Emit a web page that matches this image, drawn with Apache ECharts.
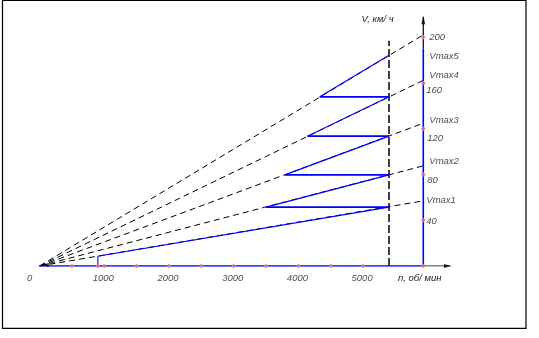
<!DOCTYPE html>
<html><head><meta charset="utf-8">
<script src="https://cdn.jsdelivr.net/npm/echarts@6/dist/echarts.min.js"></script>
<style>html,body{margin:0;padding:0;background:#fff}#c{width:539px;height:338px}</style>
</head><body><div id="c"></div>
<script>
// ---- data ----
const gearNames = ['Vmax1','Vmax2','Vmax3','Vmax4','Vmax5'];
const nMin = 900;            // rpm, start of 1st gear
const nShift = 5400;         // rpm, shift point (vertical dashed line)
const nAxis = 5930;          // rpm, where the V axis stands
const vAtShift = [51.5, 79.7, 113.6, 148.0, 184.4];  // km/h at nShift
const vRayEnd = [57.0, 87.6, 124.9, 162.4, 202.2];   // km/h at nAxis (dashed rays)
const nGearStart = [900, 3500, 3790, 4140, 4330];    // rpm, start of each blue segment
const vGear1Start = 8.6;     // km/h at nMin, 1st gear
const xTicks = [500, 900, 1000, 1500, 2000, 2500, 3000, 3500, 4000, 4500, 5000, 5930];
const xTickLabels = [0, 1000, 2000, 3000, 4000, 5000];
const yTicks = [40, 80, 120, 160, 200];
const yTickLabels = ['40','80','120','160','200'];

// ---- styles ----
const BLUE = '#0000ff', BLACK = '#000000', PINK = '#f07c7c', TXT = '#1a1a1a';
const FONT = {fontFamily:'Liberation Sans, Arial, sans-serif', fontStyle:'italic', fontSize:9.5, color:TXT};

function seg(data, color, width, type, z){
  return {type:'line', data, symbol:'none', silent:true, z:z||2,
    lineStyle:{color, width, type: type||'solid'}};
}
const series = [];
// dashed rays from origin
vRayEnd.forEach(v => series.push(seg([[0,0],[nAxis,v]], BLACK, 1, [6,4], 1)));
// vertical dashed at shift rpm
series.push(seg([[nShift,0],[nShift,197]], BLACK, 1.5, [8,3], 1));
// blue gear segments + shift horizontals
vAtShift.forEach((v,k) => {
  const vs = k === 0 ? vGear1Start : vAtShift[k-1];
  series.push(seg([[nGearStart[k], vs],[nShift, v]], BLUE, 1.1, 'solid', 3));
  if (k > 0) series.push(seg([[nGearStart[k], vAtShift[k-1]],[nShift, vAtShift[k-1]]], BLUE, 1.8, 'solid', 3));
});
series.push(seg([[nMin,0],[nMin,vGear1Start]], BLUE, 1.1, 'solid', 3));
// axes
series.push(seg([[0,0],[nAxis,0]], BLUE, 1.6, 'solid', 4));
series.push(seg([[nAxis,0],[6330,0]], BLACK, 1.2, 'solid', 4));
series.push(seg([[nAxis,0],[nAxis,190]], BLUE, 1.6, 'solid', 4));
series.push(seg([[nAxis,190],[nAxis,218]], BLACK, 1.2, 'solid', 4));
// arrowheads
series.push({type:'scatter', silent:true, z:5, symbol:'triangle', symbolSize:[4,8], symbolRotate:-90,
  itemStyle:{color:BLACK}, data:[[6310,0]]});
series.push({type:'scatter', silent:true, z:5, symbol:'triangle', symbolSize:[4,8],
  itemStyle:{color:BLACK}, data:[[nAxis,215]]});
series.push({type:'scatter', silent:true, z:5, symbol:'triangle', symbolSize:[4,8], symbolRotate:90,
  itemStyle:{color:BLACK}, data:[[80,0.9]]});
// pink tick markers
series.push({type:'scatter', silent:true, z:6, symbol:'diamond', symbolSize:5,
  itemStyle:{color:PINK}, data: xTicks.map(n => [n,0]).concat(yTicks.map(v => [nAxis,v]))});
// x tick labels
series.push({type:'scatter', silent:true, z:7, symbolSize:0,
  data: xTickLabels.map(n => ({value:[n,0], label:{offset:[n===0?-10:-1,0]}})),
  label:{show:true, position:'bottom', distance:7, formatter:p=>String(p.value[0]), ...FONT}});
// y tick labels
const yLabOff = [[3,1],[4,6],[4,9.5],[3,7.5],[6,0]];
series.push({type:'scatter', silent:true, z:7, symbolSize:0,
  data: yTicks.map((v,i) => ({value:[nAxis,v], name:yTickLabels[i], label:{offset:yLabOff[i]}})),
  label:{show:true, position:'right', distance:0, formatter:p=>p.name, ...FONT}});
// Vmax labels
const gLabOff = [[3,-0.5],[6,-4.5],[6,-2.5],[6,-5],[6,21.5]];
series.push({type:'scatter', silent:true, z:7, symbolSize:0,
  data: vRayEnd.map((v,i) => ({value:[nAxis,v], name:gearNames[i], label:{offset:gLabOff[i]}})),
  label:{show:true, position:'right', distance:0, formatter:p=>p.name, ...FONT}});

const chart = echarts.init(document.getElementById('c'), null, {renderer:'canvas'});
chart.setOption({
  animation:false,
  backgroundColor:'#fff',
  grid:{left:39.6, top:14.5, width:414.1, height:251.5},
  xAxis:{type:'value', min:0, max:6400, show:false},
  yAxis:{type:'value', min:0, max:220, show:false},
  series,
  graphic:[
    {type:'rect', shape:{x:2.5, y:0.5, width:523.5, height:327.8}, style:{fill:'none', stroke:BLACK, lineWidth:1.2}},
    {type:'text', x:361.5, y:14.5, style:{text:'V, км/ ч', font:'italic 9.5px "Liberation Sans", Arial, sans-serif', fill:TXT}},
    {type:'text', x:398, y:273.5, style:{text:'n, об/ мин', font:'italic 9.5px "Liberation Sans", Arial, sans-serif', fill:TXT}}
  ]
});
</script></body></html>
